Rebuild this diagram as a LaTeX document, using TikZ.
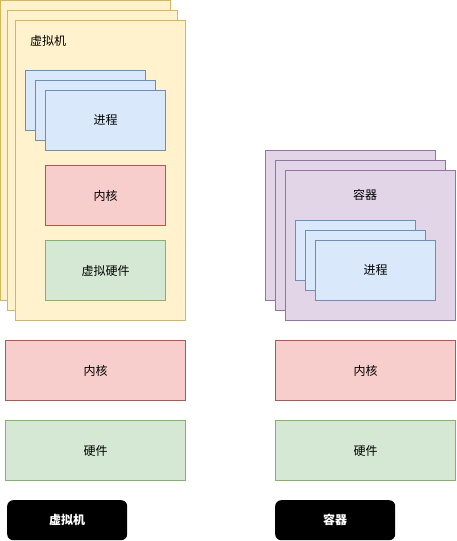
\documentclass[tikz,border=0pt]{standalone}
\usepackage{fontspec}
\setmainfont{Noto Sans CJK SC}
\usetikzlibrary{positioning}
\definecolor{amarillo}{HTML}{FFF2CC}
\definecolor{amarilloB}{HTML}{D6B656}
\definecolor{azul}{HTML}{DAE8FC}
\definecolor{azulB}{HTML}{6C8EBF}
\definecolor{rojo}{HTML}{F8CECC}
\definecolor{rojoB}{HTML}{B85450}
\definecolor{verde}{HTML}{D5E8D4}
\definecolor{verdeB}{HTML}{82B366}
\definecolor{morado}{HTML}{E1D5E7}
\definecolor{moradoB}{HTML}{9673A6}
\tikzset{
  caja/.style={rectangle, draw=#1B, fill=#1, line width=1pt, inner sep=0pt,
               anchor=north west, font=\fontsize{12}{14}\selectfont},
  pila/.style={caja=#1, minimum width=170pt, minimum height=300pt},
  capa/.style={caja=#1, minimum width=180pt, minimum height=60pt},
  proc/.style={caja=azul, minimum width=120pt, minimum height=60pt},
  etiqueta/.style={rectangle, rounded corners=6pt, fill=black, text=white, inner sep=0pt,
                   minimum width=120pt, minimum height=40pt, anchor=north west,
                   font=\fontsize{12}{14}\selectfont\bfseries},
}

\begin{document}
\begin{tikzpicture}[x=1pt, y=-1pt]
    \useasboundingbox (0,0) rectangle (456,541);
    % maquina virtual
    \node[pila=amarillo] (vm1) at (0,0) {};
    \node[pila=amarillo] (vm2) at (7,10) {};
    \node[pila=amarillo] (vm3) at (15,20) {};
    \node[anchor=west, inner sep=0pt, font=\fontsize{12}{14}\selectfont] (vmt) at (30,41) {虚拟机};
    \node[proc] (vp1) at (25,70) {};
    \node[proc] (vp2) at (35,80) {};
    \node[proc] (vp3) at (45,90) {进程};
    \node[caja=rojo, minimum width=120pt, minimum height=60pt] (vk) at (45,165) {内核};
    \node[caja=verde, minimum width=120pt, minimum height=60pt] (vh) at (45,240) {虚拟硬件};
    % contenedor
    \node[caja=morado, minimum width=170pt, minimum height=150pt] (ct1) at (265,150) {};
    \node[caja=morado, minimum width=170pt, minimum height=150pt] (ct2) at (275,160) {};
    \node[caja=morado, minimum width=170pt, minimum height=150pt] (ct3) at (285,170) {};
    \node[font=\fontsize{12}{14}\selectfont] (ctt) at (365,195) {容器};
    \node[proc] (cp1) at (295,220) {};
    \node[proc] (cp2) at (305,230) {};
    \node[proc] (cp3) at (315,240) {进程};
    % capas de abajo
    \node[capa=rojo] (k1) at (5,340) {内核};
    \node[capa=rojo] (k2) at (275,340) {内核};
    \node[capa=verde] (h1) at (5,420) {硬件};
    \node[capa=verde] (h2) at (275,420) {硬件};
    \node[etiqueta] (e1) at (7,500) {虚拟机};
    \node[etiqueta] (e2) at (275,500) {容器};
\end{tikzpicture}
\end{document}
